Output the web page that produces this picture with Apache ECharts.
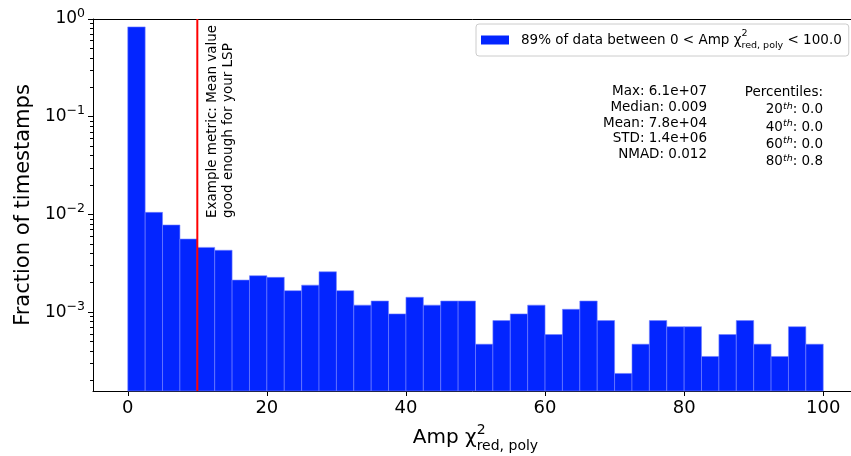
<!DOCTYPE html>
<html><head><meta charset="utf-8">
<script src="https://cdn.jsdelivr.net/npm/echarts@6/dist/echarts.min.js"></script>
<style>html,body{margin:0;padding:0;background:#fff}#c{width:851px;height:456px}</style>
</head><body><div id="c"></div>
<script>
// ---- data ----
const binStart = 0;
const binWidth = 2.5;
const fractions = [0.83, 0.0105, 0.0078, 0.0056, 0.0046, 0.0043, 0.00213, 0.00236, 0.00227, 0.00166,
  0.00189, 0.00259, 0.00166, 0.00118, 0.0013, 0.00096, 0.00142, 0.00118, 0.0013, 0.0013,
  0.00047, 0.00082, 0.00096, 0.00118, 0.00059, 0.00107, 0.0013, 0.00082, 0.000236, 0.00047,
  0.00082, 0.00071, 0.00071, 0.000352, 0.00059, 0.00082, 0.00047, 0.000352, 0.00071, 0.00047];
const xTicks = [0, 20, 40, 60, 80, 100];
const yTicks = [1e-3, 1e-2, 1e-1, 1];
const meanLineX = 10;
const annotLines = ['Example metric: Mean value', 'good enough for your LSP'];
const statsLines = ['Max: 6.1e+07', 'Median: 0.009', 'Mean: 7.8e+04', 'STD: 1.4e+06', 'NMAD: 0.012'];
const pctTitle = 'Percentiles:';
const pctLabels = ['20', '40', '60', '80'];
const pctValues = ['0.0', '0.0', '0.0', '0.8'];
const xMin = -5, xMax = 105, yMin = 1.56e-4, yMax = 1;

const FONT = 'DejaVu Sans';
const BLUE = '#0325ff';
const minorTicks = [];
for (let e = -4; e < 0; e++) for (let m = 2; m <= 9; m++) {
  const v = m * Math.pow(10, e);
  if (v >= yMin) minorTicks.push(v);
}

const chart = echarts.init(document.getElementById('c'), null, {renderer: 'canvas'});
const option = {
  animation: false,
  backgroundColor: '#fff',
  grid: {left: 93, top: 19, width: 765, height: 372, show: false, containLabel: false, outerBoundsMode: 'none'},
  legend: {
    left: 476, top: 24, padding: [5, 7, 5, 5], itemWidth: 28, itemHeight: 9, itemGap: 0,
    borderColor: '#cccccc', borderWidth: 1, borderRadius: 3, backgroundColor: '#fff',
    selectedMode: false,
    data: [{name: 'hist', icon: 'rect'}],
    formatter: () => '{g|}{t|89% of data between 0 < Amp χ}{sup|2}{sub|red, poly}{t| < 100.0}',
    textStyle: {
      fontFamily: FONT, color: '#000',
      rich: {
        g: {width: 7},
        t: {fontSize: 13.5, fontFamily: FONT, color: '#000', lineHeight: 22, verticalAlign: 'middle'},
        sup: {fontSize: 9.5, fontFamily: FONT, color: '#000', lineHeight: 10, verticalAlign: 'top', padding: [0, -6.04, 0, 0]},
        sub: {fontSize: 9.5, fontFamily: FONT, color: '#000', lineHeight: 10, verticalAlign: 'bottom'}
      }
    }
  },
  xAxis: [{
    type: 'value', min: xMin, max: xMax, position: 'bottom',
    axisLine: {show: true, onZero: false, lineStyle: {color: '#000', width: 1}},
    axisTick: {show: true, inside: false, customValues: xTicks, length: 5, lineStyle: {color: '#000'}},
    axisLabel: {customValues: xTicks, fontSize: 18, fontFamily: FONT, color: '#000', margin: 8},
    splitLine: {show: false},
    name: '{m|Amp χ}{sup|2}{sub|red, poly}', nameLocation: 'middle', nameGap: 32,
    nameTextStyle: {
      fontFamily: FONT, color: '#000',
      rich: {
        m: {fontSize: 20, fontFamily: FONT, color: '#000', lineHeight: 30, verticalAlign: 'middle'},
        sup: {fontSize: 14, fontFamily: FONT, color: '#000', lineHeight: 14, verticalAlign: 'top', padding: [0, -8.9, 0, 0]},
        sub: {fontSize: 14, fontFamily: FONT, color: '#000', lineHeight: 14, verticalAlign: 'bottom'}
      }
    }
  }, {
    type: 'value', min: xMin, max: xMax, position: 'top',
    axisLine: {show: true, onZero: false, lineStyle: {color: '#000', width: 1}},
    axisTick: {show: false}, axisLabel: {show: false}, splitLine: {show: false}
  }],
  yAxis: [{
    type: 'log', logBase: 10, min: yMin, max: yMax, position: 'left', offset: 0,
    axisLine: {show: true, onZero: false, lineStyle: {color: '#000', width: 1}},
    axisTick: {show: true, inside: false, customValues: yTicks, length: 5, lineStyle: {color: '#000'}},
    axisLabel: {
      customValues: yTicks, margin: 8, color: '#000', fontFamily: FONT,
      formatter: v => '{b|10}{sup|' + String(Math.round(Math.log10(v))).replace('-', '\u2212') + '}',
      rich: {
        b: {fontSize: 17, fontFamily: FONT, color: '#000', lineHeight: 24, verticalAlign: 'middle'},
        sup: {fontSize: 12.5, fontFamily: FONT, color: '#000', lineHeight: 12, verticalAlign: 'top'}
      }
    },
    splitLine: {show: false},
    name: 'Fraction of timestamps', nameLocation: 'middle', nameGap: 47,
    nameTextStyle: {fontSize: 21, fontFamily: FONT, color: '#000'}
  }, {
    type: 'log', logBase: 10, min: yMin, max: yMax, position: 'left', offset: 0,
    axisLine: {show: false, onZero: false},
    axisTick: {show: true, inside: false, customValues: minorTicks, length: 3, lineStyle: {color: '#000'}},
    axisLabel: {show: false}, splitLine: {show: false}
  }],
  series: [{
    name: 'hist', type: 'custom', xAxisIndex: 0, yAxisIndex: 0,
    itemStyle: {color: BLUE},
    encode: {x: 0, y: 1},
    data: fractions.map((v, i) => [binStart + i * binWidth, v]),
    renderItem: (params, api) => {
      const x0 = api.value(0);
      const v = api.value(1);
      const p0 = api.coord([x0, v]);
      const p1 = api.coord([x0 + binWidth, yMin]);
      return {type: 'rect', shape: {x: p0[0], y: p0[1], width: p1[0] - p0[0], height: p1[1] - p0[1]},
        style: {fill: BLUE, stroke: '#7683ff', lineWidth: 0.6}};
    },
    z: 2
  }, {
    name: 'mean', type: 'line', silent: true, symbol: 'none', z: 5, xAxisIndex: 0, yAxisIndex: 0,
    data: [[meanLineX, yMin], [meanLineX, yMax]],
    lineStyle: {color: '#ff0000', width: 2}
  }]
};
chart.setOption(option);

const px = chart.convertToPixel({xAxisIndex: 0}, meanLineX);
const pctText = [pctTitle].concat(pctLabels.map((l, i) => '{n|' + l + '}{s|th}{n|: ' + pctValues[i] + '}')).join('\n');
chart.setOption({
  graphic: [
    {type: 'text', x: px + 7.5, y: 218, rotation: Math.PI / 2, z: 10,
      style: {text: annotLines.join('\n'), align: 'left', verticalAlign: 'top', fontSize: 13.5, fontFamily: FONT, fill: '#000', lineHeight: 16}},
    {type: 'text', x: 707, y: 84, z: 10,
      style: {text: statsLines.join('\n'), align: 'right', verticalAlign: 'top', fontSize: 13.5, fontFamily: FONT, fill: '#000', lineHeight: 15.6}},
    {type: 'text', x: 823, y: 84, z: 10,
      style: {text: pctText, align: 'right', verticalAlign: 'top', fontSize: 13.5, fontFamily: FONT, fill: '#000', lineHeight: 17.3,
        rich: {
          n: {fontSize: 13.5, fontFamily: FONT, fill: '#000', lineHeight: 17.3, verticalAlign: 'middle'},
          s: {fontSize: 9.5, fontFamily: FONT, fontStyle: 'italic', fill: '#000', lineHeight: 10, verticalAlign: 'top'}
        }}}
  ]
});
</script></body></html>
